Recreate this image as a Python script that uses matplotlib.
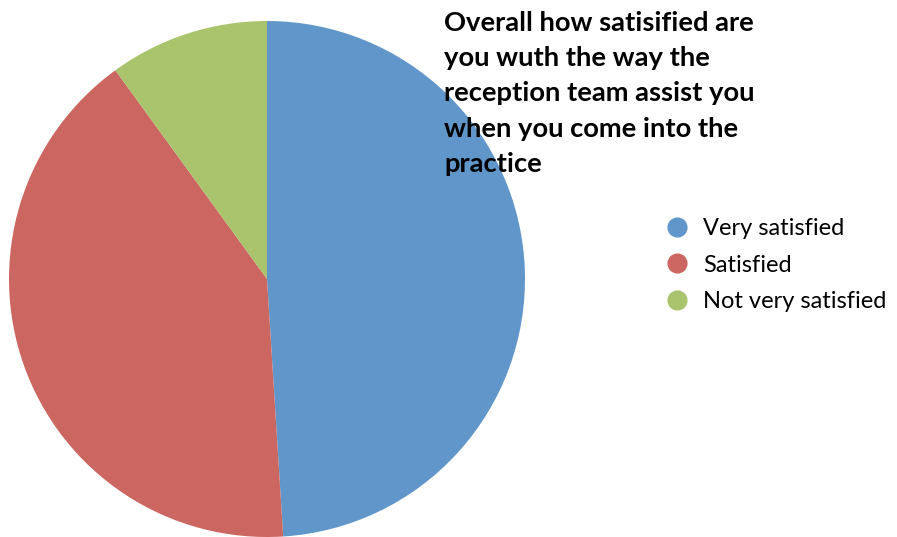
import matplotlib.pyplot as plt
from matplotlib.lines import Line2D

# data
labels = ['Very satisfied', 'Satisfied', 'Not very satisfied']
values = [49, 41, 10]
colors = ['#6096CA', '#CC6660', '#A9C46C']
title = ('Overall how satisified are\nyou wuth the way the\n'
         'reception team assist you\nwhen you come into the\npractice')

W, H = 897, 537
fig = plt.figure(figsize=(W / 100, H / 100), dpi=100)

# pie centre (267, 279) px, radius 258 px
cx, cy, r = 267, 279, 258
ax = fig.add_axes([(cx - r) / W, (H - cy - r) / H, 2 * r / W, 2 * r / H])
ax.pie(values, colors=colors, startangle=90, counterclock=False, radius=1,
       wedgeprops={'linewidth': 0})
ax.set_xlim(-1, 1)
ax.set_ylim(-1, 1)
ax.set_aspect('auto')
ax.axis('off')

fig.text(444 / W, 1 - 11 / H, title, ha='left', va='top', family='Lato',
         fontweight='bold', fontsize=19.7, linespacing=1.56, color='black')

handles = [Line2D([], [], marker='o', linestyle='none', markersize=13.5,
                  markerfacecolor=c, markeredgecolor=c) for c in colors]
fig.legend(handles, labels, loc='center left', bbox_to_anchor=(656 / W, 1 - 265 / H),
           frameon=False, prop={'family': 'Lato', 'size': 17}, handletextpad=0.6,
           labelspacing=0.65, handlelength=1.0, borderaxespad=0)

fig.savefig('out.png', dpi=100)
